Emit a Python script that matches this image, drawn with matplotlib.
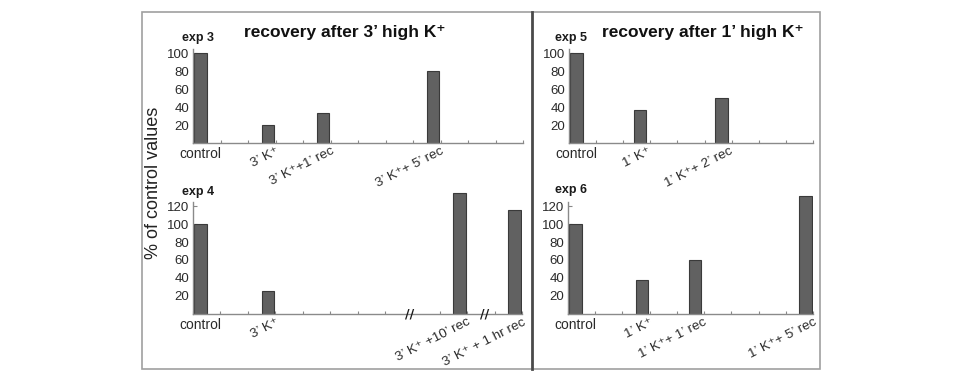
import matplotlib
matplotlib.use("Agg")
import matplotlib.pyplot as plt
from matplotlib.patches import Rectangle
from matplotlib.lines import Line2D

plt.rcParams['font.family'] = ['Liberation Sans', 'DejaVu Sans']

W, H = 965, 372

# ---- data ----
exp3_labels = ["control", "3’ K⁺", "3’ K⁺+1’ rec", "3’ K⁺+ 5’ rec"]
exp3_pos = [0.05, 2.5, 4.5, 8.5]
exp3_vals = [100, 20, 33, 80]

exp4_labels = ["control", "3’ K⁺", "3’ K⁺ +10’ rec", "3’ K⁺ + 1 hr rec"]
exp4_pos = [0.05, 2.5, 9.5, 11.5]
exp4_vals = [100, 26, 134, 116]
exp4_breaks = [7.9, 10.65]

exp5_labels = ["control", "1’ K⁺", "1’ K⁺+ 2’ rec"]
exp5_pos = [0.05, 2.4, 5.4]
exp5_vals = [100, 37, 50]

exp6_labels = ["control", "1’ K⁺", "1’ K⁺+ 1’ rec", "1’ K⁺+ 5’ rec"]
exp6_pos = [0.05, 2.5, 4.45, 8.5]
exp6_vals = [100, 38, 60, 131]

yticks_short = [20, 40, 60, 80, 100]
yticks_tall = [20, 40, 60, 80, 100, 120]

BAR_W = 0.45
PX_PER_UNIT = 0.9


def rect(x0, x1, yb, ymax):
    yt = yb - ymax * PX_PER_UNIT
    return [x0 / W, 1 - yb / H, (x1 - x0) / W, (yb - yt) / H]


fig = plt.figure(figsize=(W / 100, H / 100), dpi=100)


def panel(xpx, ybpx, pos, vals, labels, xmax, axis_top, yticks, exp_name,
          exp_xy, breaks=()):
    ymax = 140
    ax = fig.add_axes(rect(xpx[0], xpx[1], ybpx, ymax))
    ax.bar(pos, vals, width=BAR_W, align='edge', color='#616161',
           edgecolor='#3a3a3a', linewidth=0.8, zorder=2)
    ax.set_xlim(0, xmax)
    ax.set_ylim(0, ymax)
    ax.spines['left'].set_bounds(0, axis_top)
    ax.set_xticks(range(0, xmax + 1))
    ax.set_xticklabels([])
    ax.set_yticks(yticks)
    ax.set_yticklabels([str(t) for t in yticks], fontsize=9.5, color='#2a2a2a')
    ax.tick_params(axis='y', direction='in', length=3, width=0.8, color='#888888', pad=2.5)
    ax.tick_params(axis='x', direction='in', length=2, width=0.8, color='#888888')
    for s in ['top', 'right']:
        ax.spines[s].set_visible(False)
    for s in ['left', 'bottom']:
        ax.spines[s].set_color('#8a8a8a')
        ax.spines[s].set_linewidth(1.0)
    ax.patch.set_alpha(0)
    for i, (p, lab) in enumerate(zip(pos, labels)):
        if i == 0:
            ax.annotate(lab, xy=(p + BAR_W / 2, 0), xytext=(0, -3),
                        textcoords='offset points', ha='center', va='top',
                        fontsize=10, color='#2a2a2a', annotation_clip=False)
        else:
            ax.annotate(lab, xy=(p + BAR_W, 0), xytext=(1, -1.5),
                        textcoords='offset points', ha='right', va='top',
                        rotation=27, rotation_mode='anchor',
                        fontsize=9.7, color='#2a2a2a', annotation_clip=False)
    for b in breaks:
        ax.text(b, 0, "//", ha='center', va='center', fontsize=9,
                fontweight='bold', color='#1a1a1a', family='DejaVu Sans',
                clip_on=False, zorder=5)
    fig.text(exp_xy[0] / W, 1 - exp_xy[1] / H, exp_name, fontsize=9,
             fontweight='bold', ha='left', va='baseline', color='#1a1a1a')
    return ax


panel((193, 523), 143, exp3_pos, exp3_vals, exp3_labels,
      12, 104, yticks_short, "exp 3", (182, 41))
panel((193, 522), 314, exp4_pos, exp4_vals, exp4_labels,
      12, 125, yticks_tall, "exp 4", (182, 195), breaks=exp4_breaks)
panel((569, 813), 143, exp5_pos, exp5_vals, exp5_labels,
      9, 104, yticks_short, "exp 5", (555, 41))
panel((568, 813), 314, exp6_pos, exp6_vals, exp6_labels,
      9, 124, yticks_tall, "exp 6", (555, 193))

# titles
fig.text(345 / W, 1 - 33 / H, "recovery after 3’ high K⁺", fontsize=12.5,
         fontweight='bold', ha='center', va='center', color='#111111')
fig.text(703 / W, 1 - 33 / H, "recovery after 1’ high K⁺", fontsize=12.5,
         fontweight='bold', ha='center', va='center', color='#111111')

# y label
fig.text(154 / W, 1 - 183 / H, "% of control values", fontsize=13,
         rotation=90, ha='center', va='center', color='#222222')

# frame and divider
fig.add_artist(Rectangle((142 / W, 1 - 369 / H), (820 - 142) / W, (369 - 12) / H,
                         transform=fig.transFigure, fill=False,
                         edgecolor='#a0a0a0', linewidth=1.2))
fig.add_artist(Line2D([532 / W, 532 / W], [1 - 369 / H, 1 - 12 / H],
                      transform=fig.transFigure, color='#4a4a4a', linewidth=2))

fig.savefig("out.png", dpi=100)
